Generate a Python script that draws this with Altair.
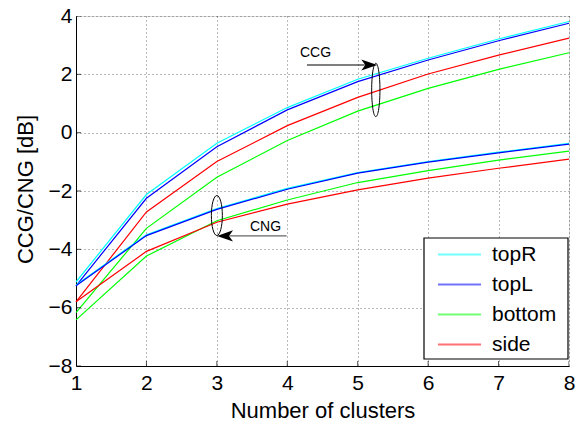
import altair as alt
import pandas as pd

# ---------------- data ----------------
clusters = [1, 2, 3, 4, 5, 6, 7, 8]
series_names = ["topR", "topL", "bottom", "side"]
series_colors = ["#00FFFF", "#0000FF", "#00FF00", "#FF0000"]

ccg_topR = [-5.12, -2.12, -0.36, 0.86, 1.83, 2.55, 3.21, 3.81]
ccg_topL = [-5.25, -2.25, -0.48, 0.78, 1.75, 2.49, 3.15, 3.75]
ccg_bottom = [-6.17, -3.28, -1.53, -0.27, 0.74, 1.52, 2.17, 2.74]
ccg_side = [-5.80, -2.72, -0.99, 0.24, 1.21, 2.01, 2.66, 3.24]

cng_topR = [-5.22, -3.50, -2.60, -1.91, -1.37, -0.99, -0.67, -0.37]
cng_topL = [-5.25, -3.53, -2.63, -1.94, -1.39, -1.01, -0.69, -0.39]
cng_bottom = [-6.42, -4.23, -3.02, -2.31, -1.71, -1.30, -0.94, -0.63]
cng_side = [-5.80, -4.07, -3.07, -2.45, -1.96, -1.56, -1.22, -0.91]

x_ticks = [1, 2, 3, 4, 5, 6, 7, 8]
y_ticks = [-8, -6, -4, -2, 0, 2, 4]

# annotations (data units)
note_text = ["CCG", "CNG"]
note_x = [4.18, 3.47]
note_y = [2.61, -3.37]

ellipse_x = [5.257, 3.0]
ellipse_y = [1.464, -2.84]

ccg_arrow_x = [4.28, 5.10]
ccg_arrow_y = [2.32, 2.32]
cng_arrow_x = [3.99, 3.18]
cng_arrow_y = [-3.54, -3.54]
ccg_head = (5.164, 2.32)
cng_head = (3.116, -3.54)

FONT = "Liberation Sans"

# ---------------- tables ----------------
rows = []
for metric, vals in [("CCG", [ccg_topR, ccg_topL, ccg_bottom, ccg_side]),
                     ("CNG", [cng_topR, cng_topL, cng_bottom, cng_side])]:
    for name, v in zip(series_names, vals):
        for xx, yy in zip(clusters, v):
            rows.append({"x": xx, "y": yy, "series": name, "metric": metric,
                         "key": f"{metric}-{name}", "ord": series_names.index(name)})
df = pd.DataFrame(rows)

xscale = alt.Scale(domain=[1, 8], nice=False, zero=False)
yscale = alt.Scale(domain=[-8, 4], nice=False, zero=False)

xaxis = alt.Axis(values=x_ticks, title="Number of clusters", tickSize=0,
                 labelPadding=6, labelFontSize=21, titleFontSize=22,
                 labelFont=FONT, titleFont=FONT, titleFontWeight="normal",
                 labelColor="black", titleColor="black", domainColor="black",
                 domainWidth=1, grid=True, gridColor="#000", gridOpacity=0.55,
                 gridDash=[1, 3], gridWidth=1, titleBaseline="alphabetic",
                 titleY=51, titleX=246.5, labelFlush=False)
yaxis = alt.Axis(values=y_ticks, title="CCG/CNG [dB]", tickSize=0,
                 labelPadding=4, labelFontSize=21, titleFontSize=22,
                 labelFont=FONT, titleFont=FONT, titleFontWeight="normal",
                 labelColor="black", titleColor="black", domainColor="black",
                 domainWidth=1, grid=True, gridColor="#000", gridOpacity=0.55,
                 gridDash=[1, 3], gridWidth=1, titleAngle=270,
                 titleBaseline="alphabetic", titleAlign="center",
                 titleX=-44, titleY=173, labelFlush=False)

X = alt.X("x:Q", scale=xscale, axis=xaxis)
Y = alt.Y("y:Q", scale=yscale, axis=yaxis)

lines = alt.Chart(df).mark_line(strokeWidth=1.2).encode(
    x=X, y=Y,
    color=alt.Color("series:N",
                    scale=alt.Scale(domain=series_names, range=series_colors),
                    legend=alt.Legend(orient="none", legendX=373, legendY=228,
                                      title=None,
                                      symbolType="M-4,0H4",
                                      symbolSize=116, symbolStrokeWidth=2,
                                      symbolOpacity=0.55,
                                      labelFontSize=21, labelFont=FONT,
                                      labelColor="black", labelOffset=22,
                                      rowPadding=8, padding=0, labelLimit=200)),
    detail="key:N",
    order=alt.Order("ord:Q"),
)

legend_box = alt.Chart(pd.DataFrame({"a": [0]})).mark_rect(
    fill="white", stroke="black", strokeWidth=1.2
).encode(x=alt.value(348), x2=alt.value(492), y=alt.value(222), y2=alt.value(343))

xt = pd.DataFrame({"x": x_ticks, "y": [-8] * len(x_ticks)})
yt = pd.DataFrame({"x": [1] * len(y_ticks), "y": y_ticks})
xtick_layer = alt.Chart(xt).mark_tick(orient="vertical", size=10, thickness=1,
                                      color="black", clip=True).encode(x=X, y=Y)
ytick_layer = alt.Chart(yt).mark_tick(orient="horizontal", size=10, thickness=1,
                                      color="black", clip=True).encode(x=X, y=Y)

notes = alt.Chart(pd.DataFrame({"x": note_x, "y": note_y, "t": note_text})).mark_text(
    align="left", baseline="alphabetic", fontSize=14, font=FONT, color="black"
).encode(x=X, y=Y, text="t:N")

ell_ccg = alt.Chart(pd.DataFrame({"x": [ellipse_x[0]], "y": [ellipse_y[0]]})).mark_point(
    shape="M-0.155,0A0.155,1,0,1,1,0.155,0A0.155,1,0,1,1,-0.155,0Z",
    size=2852, filled=False, stroke="black", strokeWidth=1, opacity=1
).encode(x=X, y=Y)
ell_cng = alt.Chart(pd.DataFrame({"x": [ellipse_x[1]], "y": [ellipse_y[1]]})).mark_point(
    shape="M-0.275,0A0.275,1,0,1,1,0.275,0A0.275,1,0,1,1,-0.275,0Z",
    size=1600, filled=False, stroke="black", strokeWidth=1, opacity=1
).encode(x=X, y=Y)

arr_ccg = alt.Chart(pd.DataFrame({"x": ccg_arrow_x, "y": ccg_arrow_y})).mark_line(
    color="black", strokeWidth=1.2).encode(x=X, y=Y)
arr_cng = alt.Chart(pd.DataFrame({"x": cng_arrow_x, "y": cng_arrow_y})).mark_line(
    color="#666666", strokeWidth=1.2).encode(x=X, y=Y)

head_ccg = alt.Chart(pd.DataFrame({"x": [ccg_head[0]], "y": [ccg_head[1]]})).mark_point(
    shape="M1,0L-1,-0.7L-0.5,0L-1,0.7Z", size=256, filled=True,
    color="black", opacity=1, strokeWidth=0
).encode(x=X, y=Y)
head_cng = alt.Chart(pd.DataFrame({"x": [cng_head[0]], "y": [cng_head[1]]})).mark_point(
    shape="M-1,0L1,-0.7L0.5,0L1,0.7Z", size=256, filled=True,
    color="black", opacity=1, strokeWidth=0
).encode(x=X, y=Y)

chart = alt.layer(
    lines, legend_box, xtick_layer, ytick_layer, notes,
    ell_ccg, ell_cng, arr_ccg, arr_cng, head_ccg, head_cng
).properties(
    width=493, height=350,
    autosize=alt.AutoSizeParams(type="none"),
    padding={"left": 76, "top": 16, "right": 7, "bottom": 59},
).configure_view(stroke=None).configure(font=FONT, background="white")

chart.save("out.html", embed_options={"renderer": "svg", "actions": False})
